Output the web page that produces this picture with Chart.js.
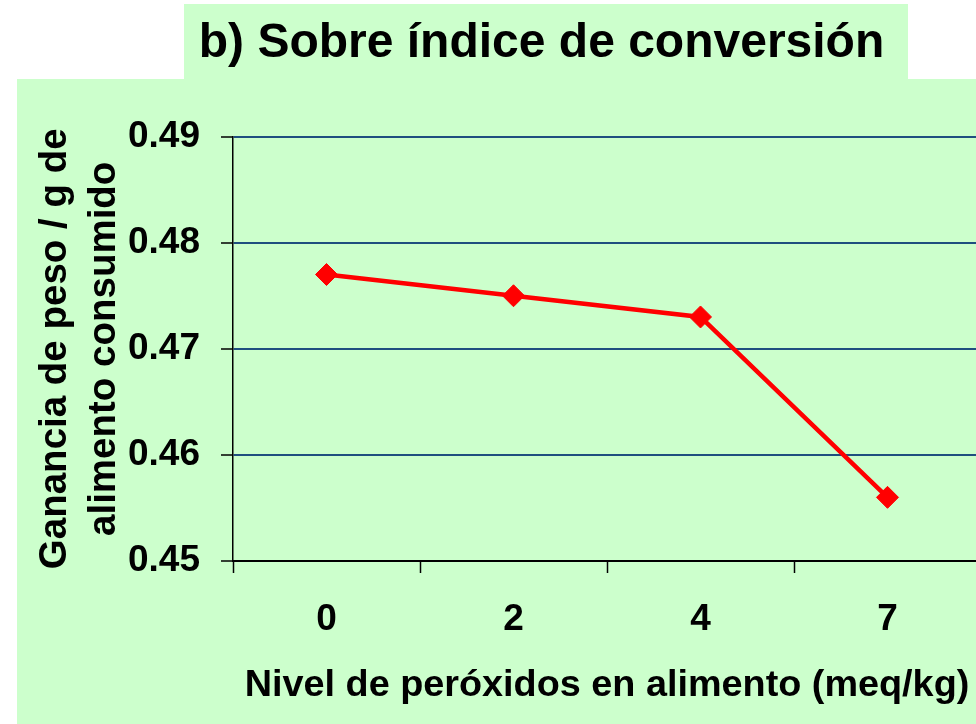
<!DOCTYPE html>
<html>
<head>
<meta charset="utf-8">
<script src="https://cdn.jsdelivr.net/npm/chart.js@4"></script>
<style>
  html, body { margin: 0; padding: 0; background: #fff; }
  body { width: 976px; height: 724px; overflow: hidden; position: relative; }
  .title-box { position: absolute; left: 184px; top: 4px; width: 724px; height: 76px; background: #ccffcc; }
  .main-box { position: absolute; left: 17px; top: 79px; right: 0; bottom: 0; background: #ccffcc; }
  #chart { position: absolute; left: 0; top: 0; }
</style>
</head>
<body>
<div class="title-box"></div>
<div class="main-box"></div>
<canvas id="chart" width="1083" height="724"></canvas>
<script>
// peroxide level in feed (meq/kg)
const niveles = ['0', '2', '4', '7'];
// weight gain per g of feed consumed
const conversion = [0.477, 0.475, 0.473, 0.456];
const yTicks = [0.45, 0.46, 0.47, 0.48, 0.49];

const FONT = '"Liberation Sans", Arial, sans-serif';

const ctx = document.getElementById('chart').getContext('2d');
new Chart(ctx, {
  type: 'line',
  data: {
    labels: niveles,
    datasets: [{
      label: 'Índice de conversión',
      data: conversion,
      borderColor: '#ff0000',
      backgroundColor: '#ff0000',
      borderWidth: 4.5,
      pointStyle: 'rectRot',
      pointRadius: 11,
      pointBorderWidth: 1,
      pointBackgroundColor: '#ff0000',
      pointBorderColor: '#ff0000',
      tension: 0
    }]
  },
  options: {
    responsive: false,
    animation: false,
    devicePixelRatio: 1,
    layout: { padding: 0 },
    plugins: {
      legend: { display: false },
      tooltip: { enabled: false },
      title: {
        display: true,
        text: 'b) Sobre índice de conversión',
        color: '#000',
        font: { family: FONT, size: 48, weight: 'bold', lineHeight: 1.2 },
        padding: { top: 15, bottom: 64 }
      }
    },
    scales: {
      x: {
        type: 'category',
        offset: true,
        afterFit: (scale) => { scale.height = 163; },
        grid: {
          offset: true,
          drawOnChartArea: false,
          drawTicks: true,
          tickLength: 12,
          tickColor: '#000',
          tickWidth: 1.5
        },
        border: { display: true, color: '#000', width: 2 },
        ticks: {
          color: '#000',
          padding: 25,
          font: { family: FONT, size: 37, weight: 'bold', lineHeight: 1.2 }
        },
        title: {
          display: true,
          text: 'Nivel de peróxidos en alimento (meq/kg)',
          color: '#000',
          font: { family: FONT, size: 37.8, weight: 'bold', lineHeight: 1.2 },
          padding: { top: 21, bottom: 16 }
        }
      },
      y: {
        min: 0.45,
        max: 0.49,
        afterFit: (scale) => { scale.width = 233; },
        afterBuildTicks: (scale) => { scale.ticks = yTicks.map(v => ({ value: v })); },
        grid: {
          color: '#1f4f7f',
          lineWidth: 2,
          drawTicks: true,
          tickLength: 12,
          tickColor: '#000',
          tickWidth: 1.5
        },
        border: { display: true, color: '#000', width: 1.5 },
        ticks: {
          color: '#000',
          padding: 21,
          font: { family: FONT, size: 37, weight: 'bold', lineHeight: 1.2 },
          callback: (v) => Number(v).toFixed(2)
        },
        title: {
          display: true,
          text: ['Ganancia de peso / g de', 'alimento consumido'],
          color: '#000',
          font: { family: FONT, size: 38.5, weight: 'bold', lineHeight: 1.27 },
          padding: { top: 31, bottom: 0 }
        }
      },
      // empty spacer on the right: the plot runs past the window edge
      spacer: {
        type: 'linear',
        position: 'right',
        afterFit: (scale) => { scale.width = 102; },
        grid: { drawOnChartArea: false, drawTicks: false },
        border: { display: false },
        ticks: { display: false }
      }
    }
  }
});
</script>
</body>
</html>
